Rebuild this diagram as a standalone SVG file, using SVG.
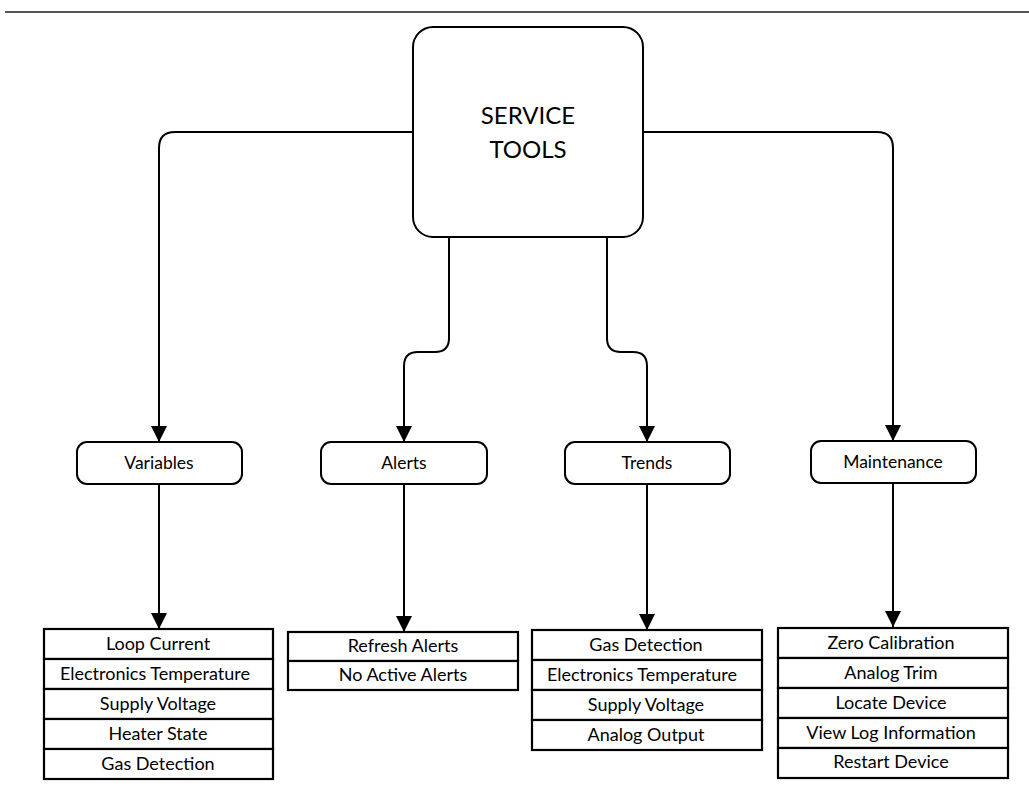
<svg xmlns="http://www.w3.org/2000/svg" width="1029" height="796" viewBox="0 0 1029 796">
<defs>
<marker id="ah" markerWidth="16" markerHeight="16" viewBox="0 0 16 16" refX="16" refY="8" orient="auto" markerUnits="userSpaceOnUse">
<path d="M0,0 L16,8 L0,16 Z" fill="#000"/>
</marker>
<style>
.t{font-family:Lato,"Open Sans","Liberation Sans",sans-serif;fill:#000;text-anchor:middle}
.big{font-size:24px}
.mid{font-size:17.5px}
.row{font-size:18px}
.box{fill:#fff;stroke:#000;stroke-width:2}
.cell{fill:#fff;stroke:#000;stroke-width:2.2}
.c{fill:none;stroke:#000;stroke-width:2}
</style>
</defs>
<rect width="1029" height="796" fill="#fff"/>
<line x1="5" y1="12" x2="1029" y2="12" stroke="#555" stroke-width="2"/>
<g id="connectors">
<path class="c" d="M413,132 H175 Q159,132 159,148 V442" marker-end="url(#ah)"/>
<path class="c" d="M643,132 H877 Q893,132 893,148 V441" marker-end="url(#ah)"/>
<path class="c" d="M449,237 V338 Q449,352 435,352 H418 Q404,352 404,366 V442" marker-end="url(#ah)"/>
<path class="c" d="M607,237 V338 Q607,352 621,352 H633 Q647,352 647,366 V442" marker-end="url(#ah)"/>
<path class="c" d="M159,484 V629" marker-end="url(#ah)"/>
<path class="c" d="M404,484 V632" marker-end="url(#ah)"/>
<path class="c" d="M647,484 V630" marker-end="url(#ah)"/>
<path class="c" d="M893,483 V627" marker-end="url(#ah)"/>
</g>
<g id="service-tools">
<rect class="box" x="413" y="27" width="230" height="210" rx="20"/>
<text class="t big" x="528" y="124">SERVICE</text>
<text class="t big" x="528" y="158">TOOLS</text>
</g>
<g id="variables">
<rect class="box" x="77" y="442" width="165" height="42" rx="10"/>
<text class="t mid" x="159" y="469">Variables</text>
</g>
<g id="alerts">
<rect class="box" x="321" y="442" width="166" height="42" rx="10"/>
<text class="t mid" x="404" y="469">Alerts</text>
</g>
<g id="trends">
<rect class="box" x="565" y="442" width="165" height="42" rx="10"/>
<text class="t mid" x="647" y="469">Trends</text>
</g>
<g id="maintenance">
<rect class="box" x="811" y="441" width="165" height="42" rx="10"/>
<text class="t mid" x="893" y="468">Maintenance</text>
</g>
<g id="variables-list">
<rect class="cell" x="44" y="629" width="229" height="30"/>
<rect class="cell" x="44" y="659" width="229" height="30"/>
<rect class="cell" x="44" y="689" width="229" height="30"/>
<rect class="cell" x="44" y="719" width="229" height="30"/>
<rect class="cell" x="44" y="749" width="229" height="30"/>
<text class="t row" x="158" y="650">Loop Current</text>
<text class="t row" x="155" y="680">Electronics Temperature</text>
<text class="t row" x="158" y="710">Supply Voltage</text>
<text class="t row" x="158" y="740">Heater State</text>
<text class="t row" x="158" y="770">Gas Detection</text>
</g>
<g id="alerts-list">
<rect class="cell" x="288" y="632" width="230" height="29"/>
<rect class="cell" x="288" y="661" width="230" height="29"/>
<text class="t row" x="403" y="652">Refresh Alerts</text>
<text class="t row" x="403" y="681">No Active Alerts</text>
</g>
<g id="trends-list">
<rect class="cell" x="532" y="630" width="230" height="30"/>
<rect class="cell" x="532" y="660" width="230" height="30"/>
<rect class="cell" x="532" y="690" width="230" height="30"/>
<rect class="cell" x="532" y="720" width="230" height="30"/>
<text class="t row" x="646" y="651">Gas Detection</text>
<text class="t row" x="642" y="681">Electronics Temperature</text>
<text class="t row" x="646" y="711">Supply Voltage</text>
<text class="t row" x="646" y="741">Analog Output</text>
</g>
<g id="maintenance-list">
<rect class="cell" x="778" y="628" width="230" height="30"/>
<rect class="cell" x="778" y="658" width="230" height="30"/>
<rect class="cell" x="778" y="688" width="230" height="30"/>
<rect class="cell" x="778" y="718" width="230" height="30"/>
<rect class="cell" x="778" y="748" width="230" height="30"/>
<text class="t row" x="891" y="649">Zero Calibration</text>
<text class="t row" x="891" y="679">Analog Trim</text>
<text class="t row" x="891" y="709">Locate Device</text>
<text class="t row" x="891" y="739">View Log Information</text>
<text class="t row" x="891" y="768">Restart Device</text>
</g>
</svg>
